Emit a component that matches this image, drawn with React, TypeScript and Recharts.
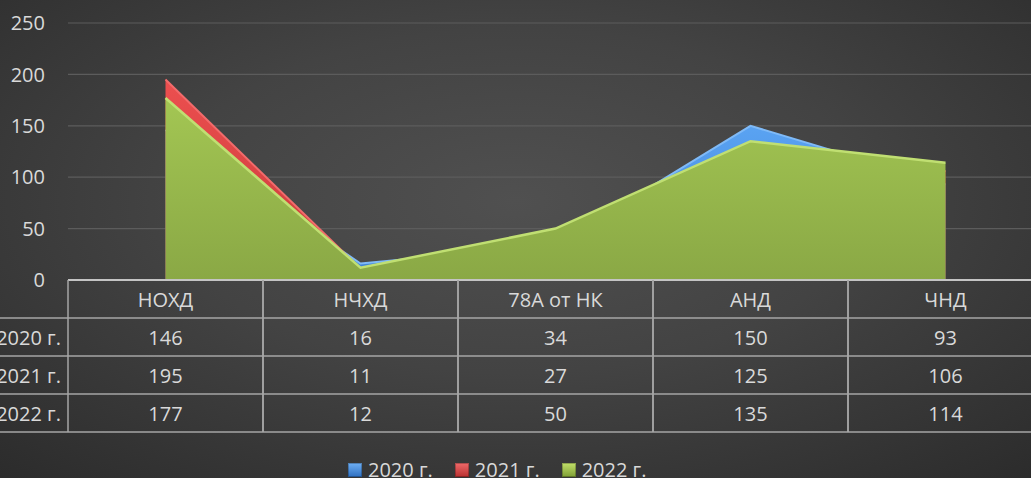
import { Area, AreaChart, CartesianGrid, XAxis, YAxis } from 'recharts'

const categories = ['НОХД', 'НЧХД', '78А от НК', 'АНД', 'ЧНД']
const seriesNames = ['2020 г.', '2021 г.', '2022 г.']
const values2020 = [146, 16, 34, 150, 93]
const values2021 = [195, 11, 27, 125, 106]
const values2022 = [177, 12, 50, 135, 114]
const yTicks = [0, 50, 100, 150, 200, 250]

const seriesValues = [values2020, values2021, values2022]
const data = categories.map((name, i) => ({
  name,
  y2020: values2020[i],
  y2021: values2021[i],
  y2022: values2022[i],
}))

const FONT = '"Open Sans", "DejaVu Sans", sans-serif'
const TEXT = '#d9d9d9'
const LINE = '#a6a6a6'
const COL_W = 195
const ROW_H = 38

// the data table sits under the axis: each category tick draws its own column,
// the first one also draws the series-name column on the left
function TableTick(props: any) {
  const { x, y, payload, index } = props
  const left = x - COL_W / 2
  const right = x + COL_W / 2
  const rows = [1, 2, 3, 4]
  return (
    <g fontFamily={FONT} fontSize={20} fill={TEXT}>
      <line x1={left} y1={y} x2={left} y2={y + ROW_H * 4} stroke={LINE} strokeWidth={1.5} />
      <line x1={right} y1={y} x2={right} y2={y + ROW_H * 4} stroke={LINE} strokeWidth={1.5} />
      {rows.map((k) => (
        <line key={k} x1={left} y1={y + ROW_H * k} x2={right} y2={y + ROW_H * k} stroke={LINE} strokeWidth={1.5} />
      ))}
      <text x={x} y={y + ROW_H / 2} textAnchor="middle" dominantBaseline="central">
        {payload.value}
      </text>
      {seriesValues.map((vals, r) => (
        <text key={r} x={x} y={y + ROW_H * (r + 1.5)} textAnchor="middle" dominantBaseline="central">
          {vals[index]}
        </text>
      ))}
      {index === 0 && (
        <g>
          {rows.map((k) => (
            <line key={k} x1={0} y1={y + ROW_H * k} x2={left} y2={y + ROW_H * k} stroke={LINE} strokeWidth={1.5} />
          ))}
          {seriesNames.map((s, r) => (
            <text key={s} x={left - 7} y={y + ROW_H * (r + 1.5)} textAnchor="end" dominantBaseline="central">
              {s}
            </text>
          ))}
        </g>
      )}
    </g>
  )
}

const legendColors = [
  ['#6fb0f5', '#2e6fc0'],
  ['#f06a6a', '#b83030'],
  ['#c2e06a', '#7f9f35'],
]

export default function App() {
  return (
    <div
      style={{
        position: 'absolute',
        left: 0,
        top: 0,
        width: 1031,
        height: 478,
        overflow: 'hidden',
        background: 'radial-gradient(ellipse 75% 80% at 50% 42%, #505050 0%, #434343 45%, #2b2b2b 100%)',
      }}
    >
      <AreaChart width={1043} height={478} data={data} margin={{ top: 23, right: 0, bottom: 0, left: 0 }}>
        <defs>
          <linearGradient id="gBlue" x1="0" y1="0" x2="0" y2="1">
            <stop offset="0%" stopColor="#5aa3f2" />
            <stop offset="100%" stopColor="#3f82d6" />
          </linearGradient>
          <linearGradient id="gRed" x1="0" y1="0" x2="0" y2="1">
            <stop offset="0%" stopColor="#ec4f4f" />
            <stop offset="100%" stopColor="#c83a3a" />
          </linearGradient>
          <linearGradient id="gGreen" x1="0" y1="0" x2="0" y2="1">
            <stop offset="0%" stopColor="#a3c653" />
            <stop offset="100%" stopColor="#8aa845" />
          </linearGradient>
        </defs>
        <CartesianGrid horizontal vertical={false} stroke="#5c5c5c" strokeWidth={1.2} />
        <YAxis
          width={68}
          domain={[0, 250]}
          ticks={yTicks}
          axisLine={false}
          tickLine={false}
          tickSize={0}
          tickMargin={23}
          tick={{ fill: TEXT, fontSize: 20, fontFamily: FONT }}
        />
        <XAxis
          dataKey="name"
          height={198}
          padding={{ left: COL_W / 2, right: COL_W / 2 }}
          axisLine={{ stroke: '#c4c4c4', strokeWidth: 2 }}
          tickLine={false}
          tickSize={0}
          tickMargin={0}
          interval={0}
          tick={(p: any) => <TableTick {...p} />}
        />
        <Area
          dataKey="y2020"
          type="linear"
          fill="url(#gBlue)"
          fillOpacity={1}
          stroke="#7fbaf7"
          strokeWidth={2}
          isAnimationActive={false}
        />
        <Area
          dataKey="y2021"
          type="linear"
          fill="url(#gRed)"
          fillOpacity={1}
          stroke="#f26b6b"
          strokeWidth={2}
          isAnimationActive={false}
        />
        <Area
          dataKey="y2022"
          type="linear"
          fill="url(#gGreen)"
          fillOpacity={1}
          stroke="#c0df72"
          strokeWidth={2.5}
          isAnimationActive={false}
        />
      </AreaChart>
      <div
        style={{
          position: 'absolute',
          left: 348,
          top: 456,
          display: 'flex',
          alignItems: 'center',
          fontFamily: FONT,
          fontSize: 20,
          color: TEXT,
        }}
      >
        {seriesNames.map((s, i) => (
          <div key={s} style={{ display: 'flex', alignItems: 'center', marginRight: 22 }}>
            <span
              style={{
                width: 14,
                height: 14,
                marginRight: 6,
                background: `linear-gradient(180deg, ${legendColors[i][0]}, ${legendColors[i][1]})`,
                boxShadow: 'inset 0 0 0 1px rgba(0,0,0,0.25)',
              }}
            />
            {s}
          </div>
        ))}
      </div>
    </div>
  )
}
